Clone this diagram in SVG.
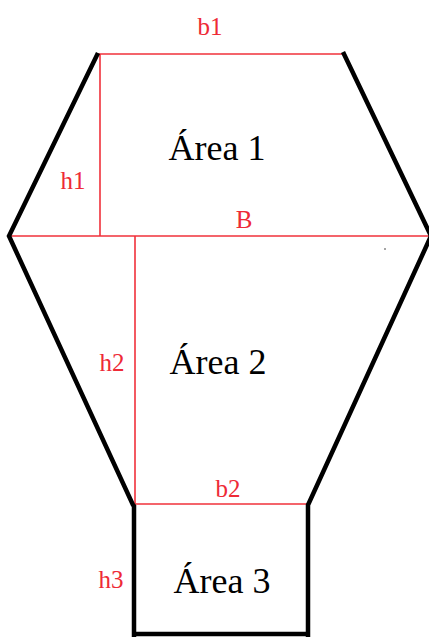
<svg xmlns="http://www.w3.org/2000/svg" width="429" height="637" viewBox="0 0 429 637">
<style>
.blk{stroke:#000;stroke-width:4.5;fill:none;stroke-linejoin:miter}
.red{stroke:#f0303a;stroke-width:1.6;fill:none}
.lbl{font-family:"Liberation Serif",serif;font-size:25px;fill:#ee2a36}
.area{font-family:"Liberation Serif",serif;font-size:36px;fill:#000}
</style>
<rect width="429" height="637" fill="#fff"/>
<g id="connectors">
<line class="red" x1="98" y1="54" x2="343" y2="54"/>
<line class="red" x1="9" y1="236" x2="429" y2="236"/>
<line class="red" x1="100" y1="54" x2="100" y2="236"/>
<line class="red" x1="135" y1="236" x2="135" y2="504"/>
<line class="red" x1="135" y1="504" x2="307" y2="504"/>
</g>
<g id="outline">
<polyline class="blk" points="98,53 9,236 133,505 134,506 134,637"/>
<polyline class="blk" points="343,52 431,236 308,505 308,637"/>
<line class="blk" x1="134" y1="634" x2="308" y2="634"/>
<circle cx="385" cy="249" r="0.8" fill="#333"/>
</g>
<g id="area1">
<text class="area" x="217" y="160" text-anchor="middle">Área 1</text>
<text class="lbl" x="210" y="35" text-anchor="middle">b1</text>
<text class="lbl" x="73" y="189" text-anchor="middle">h1</text>
<text class="lbl" x="244" y="228" text-anchor="middle">B</text>
</g>
<g id="area2">
<text class="area" x="218" y="374" text-anchor="middle">Área 2</text>
<text class="lbl" x="112" y="371" text-anchor="middle">h2</text>
<text class="lbl" x="228" y="497" text-anchor="middle">b2</text>
</g>
<g id="area3">
<text class="area" x="222" y="593" text-anchor="middle">Área 3</text>
<text class="lbl" x="111" y="588" text-anchor="middle">h3</text>
</g>
</svg>
